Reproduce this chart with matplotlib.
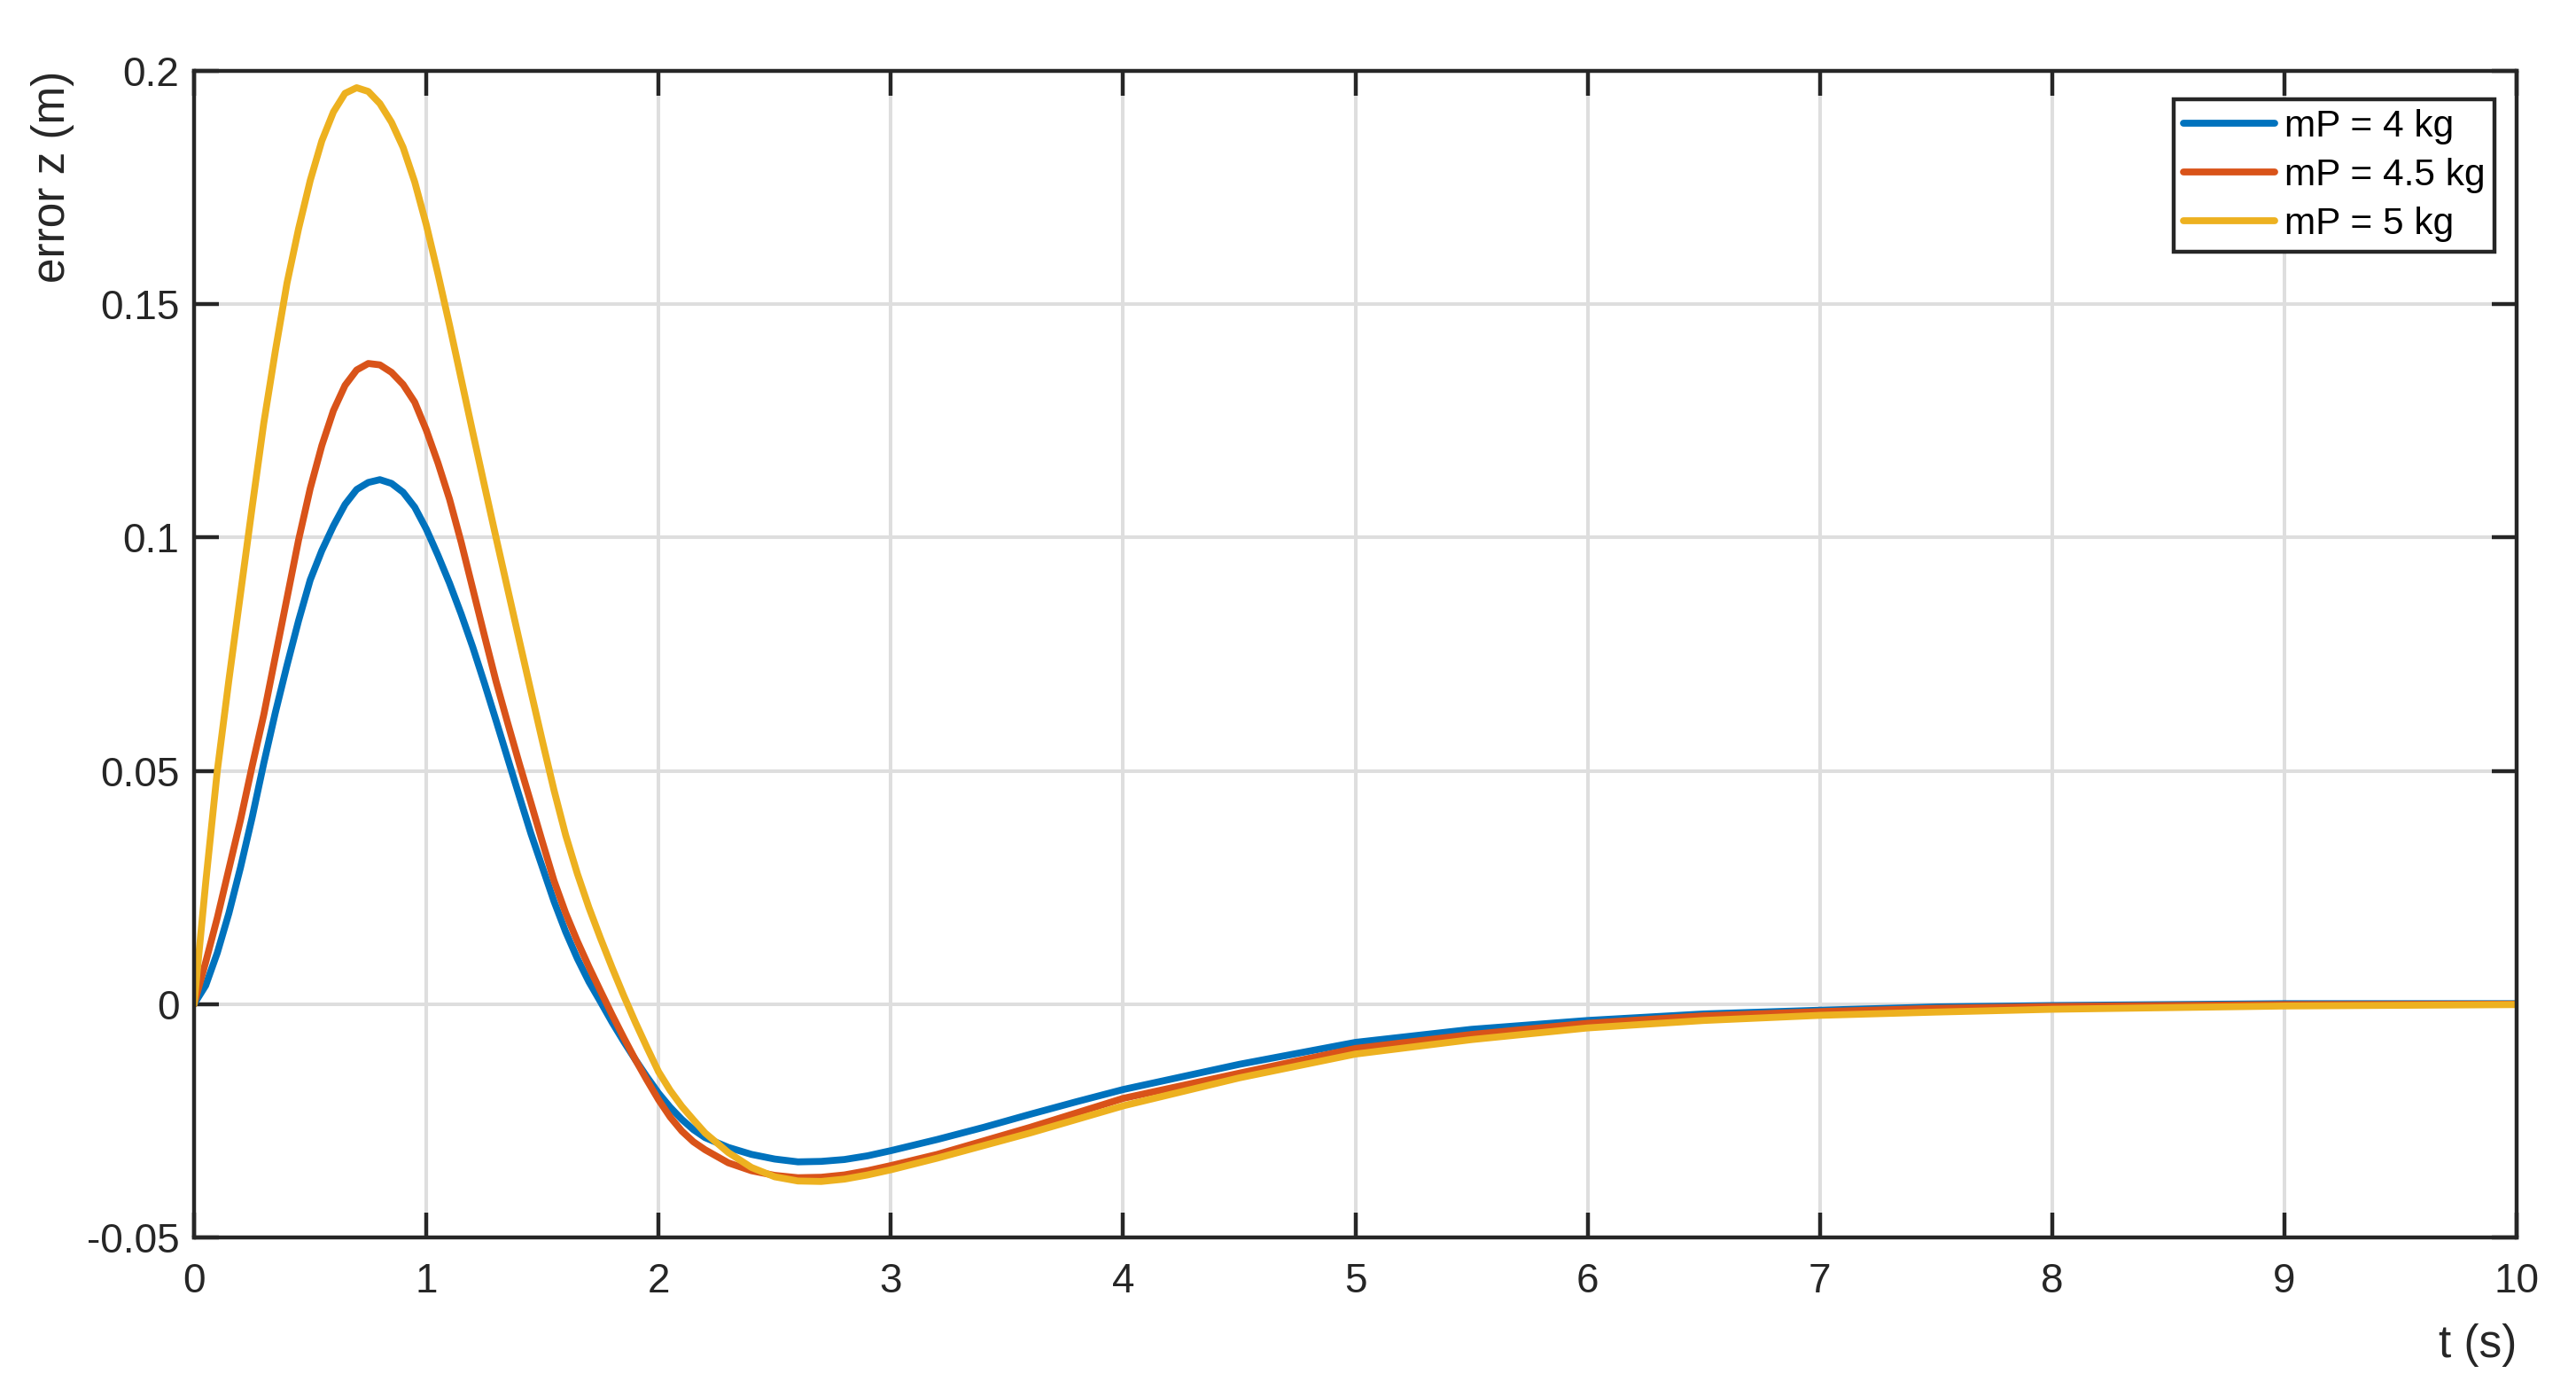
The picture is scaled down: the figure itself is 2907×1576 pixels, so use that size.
import numpy as np
import matplotlib
matplotlib.use("Agg")
from matplotlib import pyplot as plt

plt.rcParams['font.family'] = ['Liberation Sans', 'DejaVu Sans']

# time samples (s)
t = [0.00, 0.05, 0.10, 0.15, 0.20, 0.25, 0.30, 0.35, 0.40, 0.45,
     0.50, 0.55, 0.60, 0.65, 0.70, 0.75, 0.80, 0.85, 0.90, 0.95,
     1.00, 1.05, 1.10, 1.15, 1.20, 1.25, 1.30, 1.35, 1.40, 1.45,
     1.50, 1.55, 1.60, 1.65, 1.70, 1.75, 1.80, 1.85, 1.90, 1.95,
     2.00, 2.05, 2.10, 2.15, 2.20,
     2.30, 2.40, 2.50, 2.60, 2.70, 2.80, 2.90, 3.00,
     3.20, 3.40, 3.60, 3.80, 4.00,
     4.50, 5.00, 5.50, 6.00, 6.50, 7.00, 7.50, 8.00,
     9.00, 10.00]

# error z (m)
err_4kg = [0.0000, 0.0040, 0.0110, 0.0195, 0.0293, 0.0400, 0.0516, 0.0625, 0.0726, 0.0822,
           0.0909, 0.0972, 0.1025, 0.1071, 0.1103, 0.1118, 0.1124, 0.1116, 0.1097, 0.1065,
           0.1018, 0.0962, 0.0902, 0.0836, 0.0765, 0.0688, 0.0608, 0.0527, 0.0446, 0.0366,
           0.0293, 0.0220, 0.0155, 0.0098, 0.0048, 0.0005, -0.0039, -0.0080, -0.0119, -0.0156,
           -0.0191, -0.0221, -0.0247, -0.0269, -0.0286,
           -0.0307, -0.0322, -0.0332, -0.0338, -0.0337, -0.0333, -0.0325, -0.0314,
           -0.0290, -0.0264, -0.0236, -0.0209, -0.0183,
           -0.0129, -0.0082, -0.0054, -0.0035, -0.0021, -0.0013, -0.0006, -0.0003,
           0.0001, 0.0001]

err_45kg = [0.0000, 0.0090, 0.0185, 0.0290, 0.0395, 0.0510, 0.0620, 0.0745, 0.0870, 0.0995,
            0.1105, 0.1197, 0.1272, 0.1326, 0.1359, 0.1373, 0.1370, 0.1354, 0.1328, 0.1290,
            0.1230, 0.1160, 0.1082, 0.0990, 0.0890, 0.0790, 0.0692, 0.0603, 0.0516, 0.0432,
            0.0347, 0.0264, 0.0195, 0.0135, 0.0080, 0.0028, -0.0023, -0.0072, -0.0119, -0.0163,
            -0.0205, -0.0242, -0.0272, -0.0295, -0.0312,
            -0.0340, -0.0357, -0.0367, -0.0372, -0.0371, -0.0366, -0.0357, -0.0346,
            -0.0322, -0.0293, -0.0264, -0.0233, -0.0202,
            -0.0148, -0.0095, -0.0065, -0.0041, -0.0025, -0.0016, -0.0009, -0.0005,
            -0.0001, 0.0000]

err_5kg = [0.0000, 0.0260, 0.0500, 0.0695, 0.0880, 0.1065, 0.1245, 0.1400, 0.1545, 0.1662,
           0.1765, 0.1850, 0.1912, 0.1952, 0.1964, 0.1956, 0.1930, 0.1890, 0.1836, 0.1762,
           0.1670, 0.1565, 0.1455, 0.1340, 0.1225, 0.1112, 0.1000, 0.0890, 0.0780, 0.0671,
           0.0563, 0.0458, 0.0362, 0.0280, 0.0207, 0.0141, 0.0078, 0.0018, -0.0039, -0.0093,
           -0.0145, -0.0185, -0.0219, -0.0248, -0.0276,
           -0.0318, -0.0350, -0.0370, -0.0379, -0.0380, -0.0375, -0.0366, -0.0355,
           -0.0330, -0.0303, -0.0276, -0.0247, -0.0218,
           -0.0158, -0.0107, -0.0076, -0.0051, -0.0035, -0.0024, -0.0017, -0.0011,
           -0.0004, -0.0001]

series = [err_4kg, err_45kg, err_5kg]
names = ['mP = 4 kg', 'mP = 4.5 kg', 'mP = 5 kg']
colors = ['#0072BD', '#D95319', '#EDB120']

xticks = [0, 1, 2, 3, 4, 5, 6, 7, 8, 9, 10]
yticks = [-0.05, 0, 0.05, 0.1, 0.15, 0.2]
ytick_labels = ['-0.05', '0', '0.05', '0.1', '0.15', '0.2']

fig = plt.figure(figsize=(29.07, 15.76), dpi=100)
ax = fig.add_axes([0.07534, 0.11421, 0.90162, 0.83503])

for y, n, c in zip(series, names, colors):
    ax.plot(t, y, color=c, lw=5.6, label=n, solid_capstyle='round', solid_joinstyle='round')

ax.set_xlim(0, 10)
ax.set_ylim(-0.05, 0.2)
ax.set_xticks(xticks)
ax.set_xticklabels([str(v) for v in xticks])
ax.set_yticks(yticks)
ax.set_yticklabels(ytick_labels)

dark = '#262626'
ax.grid(True, color='#dedede', lw=2.9)
ax.set_axisbelow(True)
for s in ax.spines.values():
    s.set_linewidth(3.2)
    s.set_color(dark)
ax.tick_params(direction='in', top=True, right=True, length=20.5, width=3.2,
               color=dark, labelcolor=dark, labelsize=33)
ax.tick_params(axis='x', pad=20)
ax.tick_params(axis='y', pad=12)

ax.set_xlabel('t (s)', fontsize=37, color=dark, loc='right', labelpad=18)
ax.set_ylabel('error z (m)', fontsize=37, color=dark, loc='top', labelpad=10)

leg = ax.legend(loc='upper right', bbox_to_anchor=(0.9905, 0.9757), borderaxespad=0,
                fontsize=30.5, fancybox=False, framealpha=1, edgecolor=dark,
                handlelength=2.45, handletextpad=0.25, labelspacing=0.36,
                borderpad=0.25)
leg.get_frame().set_linewidth(3.2)
for line in leg.get_lines():
    line.set_linewidth(5.6)

fig.savefig('out.png', dpi=100)
